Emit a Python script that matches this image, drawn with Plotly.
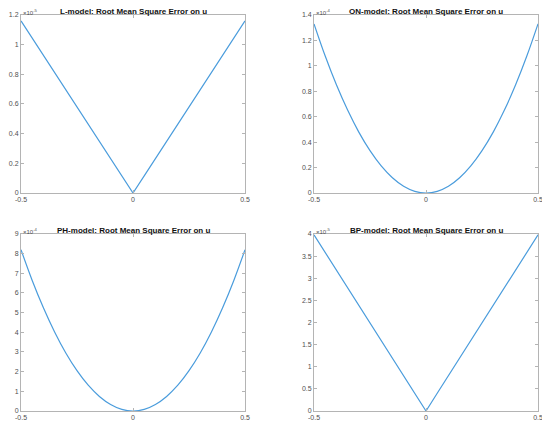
import plotly.graph_objects as go
from plotly.subplots import make_subplots

# shared x grid
u = [-0.5, -0.45, -0.4, -0.35, -0.3, -0.25, -0.2, -0.15, -0.1, -0.05, 0.0,
     0.05, 0.1, 0.15, 0.2, 0.25, 0.3, 0.35, 0.4, 0.45, 0.5]

# values, in units of the axis multiplier
rmse_L = [1.16, 1.044, 0.928, 0.812, 0.696, 0.58, 0.464, 0.348, 0.232, 0.116, 0.0,
          0.116, 0.232, 0.348, 0.464, 0.58, 0.696, 0.812, 0.928, 1.044, 1.16]
rmse_ON = [1.33, 1.077, 0.851, 0.652, 0.479, 0.333, 0.213, 0.120, 0.053, 0.013, 0.0,
           0.013, 0.053, 0.120, 0.213, 0.333, 0.479, 0.652, 0.851, 1.077, 1.33]
rmse_PH = [8.2, 6.64, 5.25, 4.02, 2.95, 2.05, 1.31, 0.74, 0.33, 0.08, 0.0,
           0.08, 0.33, 0.74, 1.31, 2.05, 2.95, 4.02, 5.25, 6.64, 8.2]
rmse_BP = [3.98, 3.58, 3.18, 2.79, 2.39, 1.99, 1.59, 1.19, 0.80, 0.40, 0.0,
           0.40, 0.80, 1.19, 1.59, 1.99, 2.39, 2.79, 3.18, 3.58, 3.98]

titles = ["L-model: Root Mean Square Error on u", "ON-model: Root Mean Square Error on u",
          "PH-model: Root Mean Square Error on u", "BP-model: Root Mean Square Error on u"]
exponents = ["-5", "-4", "-4", "-5"]
y_ranges = [[0, 1.2], [0, 1.4], [0, 9], [0, 4]]
y_dticks = [0.2, 0.2, 1, 0.5]
shapes = ["linear", "spline", "spline", "linear"]
series = [rmse_L, rmse_ON, rmse_PH, rmse_BP]

FONT = "Liberation Sans, Arial, Helvetica, sans-serif"
AXIS_GRAY = "#b4b4b4"
TEXT_GRAY = "#505050"

fig = make_subplots(rows=2, cols=2)

# page body adds an 8px offset, so the figure is 542x423
x_domains = [[0.024, 0.4373], [0.5646, 0.9779]]
y_domains = [[0.5626, 0.9835], [0.0473, 0.4657]]

for i, ys in enumerate(series):
    r, c = i // 2 + 1, i % 2 + 1
    fig.add_trace(go.Scatter(x=u, y=ys, mode="lines",
                             line=dict(color="#4a9cdc", width=1.2, shape=shapes[i]),
                             showlegend=False), row=r, col=c)
    fig.update_xaxes(domain=x_domains[c - 1], range=[-0.5, 0.5],
                     tickvals=[-0.5, 0, 0.5], ticktext=["-0.5", "0", "0.5"],
                     row=r, col=c)
    fig.update_yaxes(domain=y_domains[r - 1], range=y_ranges[i],
                     dtick=y_dticks[i], tick0=0, row=r, col=c)

    xd, yd = x_domains[c - 1], y_domains[r - 1]
    fig.add_annotation(text="<b>" + titles[i] + "</b>", xref="paper", yref="paper",
                       x=(xd[0] + xd[1]) / 2, y=yd[1], xanchor="center", yanchor="bottom",
                       yshift=-3, showarrow=False, font=dict(size=8, color="#111111", family=FONT))
    fig.add_annotation(text="×10<sup>" + exponents[i] + "</sup>", xref="paper", yref="paper",
                       x=xd[0], y=yd[1], xanchor="left", yanchor="bottom",
                       yshift=-3, showarrow=False, font=dict(size=6, color=TEXT_GRAY, family=FONT))

fig.update_xaxes(showgrid=False, zeroline=False, showline=True, linecolor=AXIS_GRAY,
                 linewidth=1, mirror="ticks", ticks="inside", ticklen=3, automargin=False,
                 tickcolor=AXIS_GRAY, tickfont=dict(size=7, color=TEXT_GRAY, family=FONT))
fig.update_yaxes(showgrid=False, zeroline=False, showline=True, linecolor=AXIS_GRAY,
                 linewidth=1, mirror="ticks", ticks="inside", ticklen=3, automargin=False,
                 tickcolor=AXIS_GRAY, tickfont=dict(size=7, color=TEXT_GRAY, family=FONT))

fig.update_layout(width=542, height=423, margin=dict(t=0, b=0, l=0, r=0),
                  plot_bgcolor="white", paper_bgcolor="white",
                  font_family=FONT)

fig.write_html("out.html")
